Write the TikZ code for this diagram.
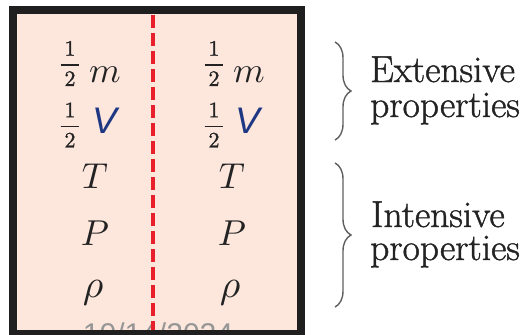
\documentclass[tikz,border=0pt]{standalone}
\usepackage{amsmath}
\usepackage{fontspec}
\newfontfamily\lmr{Latin Modern Roman}[FakeBold=1.2]
\newfontfamily\sanf{Liberation Sans}
\usetikzlibrary{decorations.pathreplacing}
\definecolor{boxfill}{RGB}{253,231,221}
\definecolor{divred}{RGB}{232,32,44}
\definecolor{vblue}{RGB}{30,55,130}
\definecolor{txt}{RGB}{35,35,35}
\definecolor{bracegray}{RGB}{95,95,95}
\definecolor{wmgray}{RGB}{150,150,150}
\newcommand\halffrac{$\genfrac{}{}{0.8pt}{0}{\makebox[8.6pt]{1}}{\makebox[8.6pt]{2}}$}
\tikzset{
  lab/.style={inner sep=0pt, text=txt, font=\lmr\fontsize{37.5}{40}\selectfont},
  sym/.style={inner sep=0pt, text=txt, font=\lmr\fontsize{10}{12}\selectfont, scale=3.6},
  frac/.style={inner sep=0pt, text=txt, font=\lmr\fontsize{10}{12}\selectfont, scale=2.2},
  vsym/.style={inner sep=0pt, text=vblue, font=\sanf\fontsize{37}{40}\selectfont\itshape},
  bracedeco/.style={decorate, decoration={brace, amplitude=16pt}, line width=1.4pt, draw=bracegray},
}
\begin{document}
\begin{tikzpicture}[x=1pt, y=-1pt]
\useasboundingbox (0,0) rectangle (526,334);
\clip (0,0) rectangle (526,334);
% container
\fill[boxfill] (12.5,10.5) rectangle (300.5,334);
\node[inner sep=0pt, anchor=base, text=wmgray, font=\sanf\fontsize{30}{32}\selectfont] (wm) at (158,344.5) {10/14/2024};
\draw[divred, line width=3.5pt, dash pattern=on 13pt off 5pt] (153,15) -- (153,334);
\draw[line width=8pt, draw=black!88] (12.5,10.5) rectangle (300.5,334);
% left column
\node[frac] (fl1) at (70,63.5) {\halffrac};
\node[sym, anchor=base] (ml) at (105,82) {$m$};
\node[frac] (fl2) at (70,125) {\halffrac};
\node[vsym, anchor=base] (vl) at (105,133) {V};
\node[sym, anchor=base] (tl) at (95,188) {$T$};
\node[sym, anchor=base] (pl) at (95,245) {$P$};
\node[sym, anchor=base, scale=1.1] (rl) at (93,297) {$\rho$};
% right column
\node[frac] (fr1) at (214,63.5) {\halffrac};
\node[sym, anchor=base] (mr) at (249,82) {$m$};
\node[frac] (fr2) at (214,125) {\halffrac};
\node[vsym, anchor=base] (vr) at (248,133) {V};
\node[sym, anchor=base] (tr) at (232,188) {$T$};
\node[sym, anchor=base] (pr) at (232,245) {$P$};
\node[sym, anchor=base, scale=1.1] (rr) at (230,297) {$\rho$};
% braces
\coordinate (b1t) at (335,42);
\coordinate (b1b) at (335,140);
\coordinate (b2t) at (335,163);
\coordinate (b2b) at (335,307);
\draw[bracedeco] (b1t) -- (b1b);
\draw[bracedeco] (b2t) -- (b2b);
% labels
\node[lab, anchor=base west] (ext1) at (370,82) {Extensive};
\node[lab, anchor=base west] (ext2) at (370,117) {properties};
\node[lab, anchor=base west] (int1) at (371,227) {Intensive};
\node[lab, anchor=base west] (int2) at (370,260) {properties};
\end{tikzpicture}
\end{document}
